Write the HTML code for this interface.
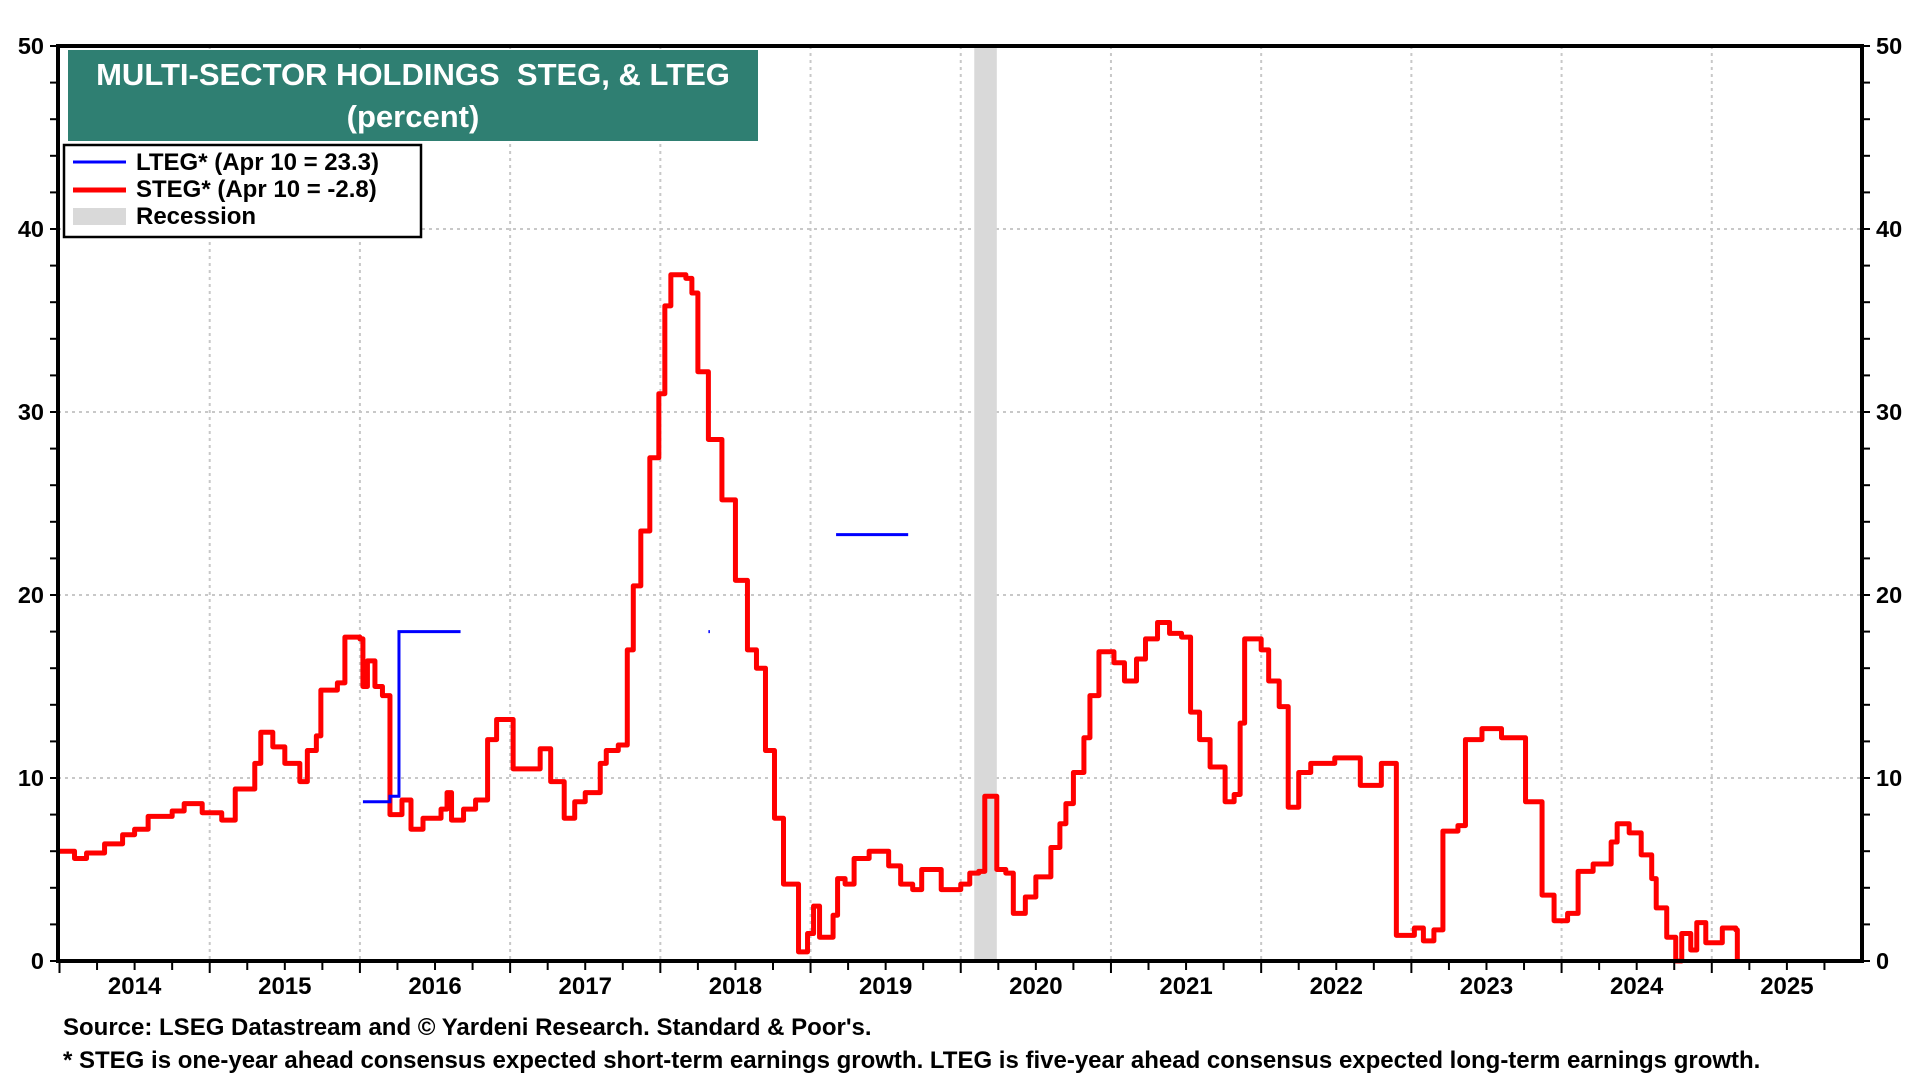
<!DOCTYPE html>
<html><head><meta charset="utf-8"><style>
body{margin:0;background:#fff;width:1920px;height:1080px;overflow:hidden;font-family:"Liberation Sans",Arial,sans-serif}
svg text{font-family:"Liberation Sans",Arial,sans-serif;font-weight:bold}
</style></head><body>
<svg id="chart" width="1920" height="1080" viewBox="0 0 1920 1080" xmlns="http://www.w3.org/2000/svg">
<g id="grid"></g>
<rect id="rec" fill="#d9d9d9"/>
<g id="series"></g>
<g id="axes"></g>
<rect x="68" y="50" width="690" height="91" fill="#2f7f72"/>
<text x="413" y="85" fill="#fff" font-size="31" text-anchor="middle">MULTI-SECTOR HOLDINGS&#160; STEG, &amp; LTEG</text>
<text x="413" y="127" fill="#fff" font-size="31" text-anchor="middle">(percent)</text>
<g>
<rect x="64" y="145" width="357" height="92" fill="#fff" stroke="#000" stroke-width="2.5"/>
<line x1="73" y1="162" x2="126" y2="162" stroke="#0000ff" stroke-width="3"/>
<text x="136" y="170" font-size="24">LTEG* (Apr 10 = 23.3)</text>
<line x1="73" y1="190" x2="126" y2="190" stroke="#ff0000" stroke-width="5"/>
<text x="136" y="197" font-size="24">STEG* (Apr 10 = -2.8)</text>
<rect x="73" y="208" width="53" height="17" fill="#d9d9d9"/>
<text x="136" y="224" font-size="24">Recession</text>
</g>
<text x="63" y="1035" font-size="24">Source: LSEG Datastream and © Yardeni Research. Standard &amp; Poor's.</text>
<text x="63" y="1068" font-size="24">* STEG is one-year ahead consensus expected short-term earnings growth. LTEG is five-year ahead consensus expected long-term earnings growth.</text>
</svg>
<script>
const yearLabels=[2014,2015,2016,2017,2018,2019,2020,2021,2022,2023,2024,2025];
const yTicks=[0,10,20,30,40,50];
const recession=[2020.09,2020.24];
const stegX=[2013.99,2014.1,2014.18,2014.3,2014.42,2014.5,2014.59,2014.75,2014.83,2014.95,2015.08,2015.17,2015.3,2015.34,2015.42,2015.5,2015.6,2015.65,2015.71,2015.74,2015.85,2015.9,2016.0,2016.02,2016.05,2016.1,2016.15,2016.2,2016.28,2016.34,2016.42,2016.54,2016.58,2016.61,2016.69,2016.77,2016.85,2016.91,2017.02,2017.16,2017.2,2017.27,2017.36,2017.43,2017.5,2017.6,2017.64,2017.72,2017.78,2017.82,2017.87,2017.93,2017.99,2018.03,2018.07,2018.17,2018.21,2018.25,2018.32,2018.41,2018.5,2018.58,2018.64,2018.7,2018.76,2018.82,2018.92,2018.98,2019.02,2019.06,2019.15,2019.18,2019.23,2019.29,2019.39,2019.46,2019.52,2019.6,2019.68,2019.74,2019.87,2020.0,2020.06,2020.12,2020.16,2020.24,2020.3,2020.35,2020.43,2020.5,2020.6,2020.66,2020.7,2020.75,2020.82,2020.86,2020.92,2021.02,2021.09,2021.17,2021.23,2021.31,2021.39,2021.47,2021.53,2021.59,2021.66,2021.76,2021.82,2021.86,2021.89,2022.0,2022.05,2022.12,2022.18,2022.25,2022.33,2022.49,2022.66,2022.8,2022.9,2023.02,2023.08,2023.15,2023.21,2023.31,2023.36,2023.47,2023.6,2023.76,2023.87,2023.95,2024.04,2024.11,2024.21,2024.33,2024.37,2024.45,2024.53,2024.6,2024.63,2024.7,2024.76,2024.8,2024.86,2024.9,2024.96,2025.07,2025.16,2025.17];
const stegY=[6,5.6,5.9,6.4,6.9,7.2,7.9,8.2,8.6,8.1,7.7,9.4,10.8,12.5,11.7,10.8,9.8,11.5,12.3,14.8,15.2,17.7,17.6,15.0,16.4,15,14.5,8.0,8.8,7.2,7.8,8.3,9.2,7.7,8.3,8.8,12.1,13.2,10.5,10.5,11.6,9.8,7.8,8.7,9.2,10.8,11.5,11.8,17,20.5,23.5,27.5,31,35.8,37.5,37.3,36.5,32.2,28.5,25.2,20.8,17,16,11.5,7.8,4.2,0.5,1.5,3.0,1.3,2.5,4.5,4.2,5.6,6.0,6.0,5.2,4.2,3.9,5.0,3.9,4.2,4.8,4.9,9.0,5.0,4.8,2.6,3.5,4.6,6.2,7.5,8.6,10.3,12.2,14.5,16.9,16.3,15.3,16.5,17.6,18.5,17.9,17.7,13.6,12.1,10.6,8.7,9.1,13.0,17.6,17.0,15.3,13.9,8.4,10.3,10.8,11.1,9.6,10.8,1.4,1.8,1.1,1.7,7.1,7.4,12.1,12.7,12.2,8.7,3.6,2.2,2.6,4.9,5.3,6.5,7.5,7.0,5.8,4.5,2.9,1.3,0,1.5,0.6,2.1,1.0,1.8,1.7,0];
const ltegX=[2016.02,2016.2,2016.26,2016.67,null,2018.32,2018.33,null,2019.17,2019.65];
const ltegY=[8.7,9.0,18.0,18.0,null,18.0,18.0,null,23.3,23.3];
const L=58,R=1862,T=46,B=961;
const X0=2013.99,X1=2026.0;
const xs=v=>L+(v-X0)/(X1-X0)*(R-L);
const ys=v=>B-v/50*(B-T);
const NS='http://www.w3.org/2000/svg';
function mk(tag,parent,attrs){const e=document.createElementNS(NS,tag);for(const k in attrs)e.setAttribute(k,attrs[k]);parent.appendChild(e);return e;}
const grid=document.getElementById('grid'),axes=document.getElementById('axes'),series=document.getElementById('series');
yTicks.forEach(t=>{if(t>0&&t<50){const g=mk('line',grid,{x1:L,x2:R,y1:ys(t),y2:ys(t),stroke:'#c8c8c8','stroke-width':2,'stroke-dasharray':'3 4'});

}
const a=mk('text',axes,{x:L-14,y:ys(t)+8,'font-size':23.5,'text-anchor':'end'});a.textContent=t;


const b=mk('text',axes,{x:R+14,y:ys(t)+8,'font-size':23.5});b.textContent=t;

});
for(let v=0;v<=50;v+=2){mk('line',axes,{x1:L-8,x2:L,y1:ys(v),y2:ys(v),stroke:'#000','stroke-width':2});mk('line',axes,{x1:R,x2:R+8,y1:ys(v),y2:ys(v),stroke:'#000','stroke-width':2});}
yearLabels.forEach(y=>{const x=xs(y);if(y>2014){const g=mk('line',grid,{x1:x,x2:x,y1:T,y2:B,stroke:'#c8c8c8','stroke-width':2,'stroke-dasharray':'3 4'});

}
for(let q=0;q<4;q++){const qx=xs(y+q/4);mk('line',axes,{x1:qx,x2:qx,y1:B,y2:B+(q==0?12:9),stroke:'#000','stroke-width':2});}
const t=mk('text',axes,{x:xs(y+0.5),y:B+33,'font-size':24,'text-anchor':'middle'});t.textContent=y;

});
mk('rect',axes,{x:L,y:T,width:R-L,height:B-T,fill:'none',stroke:'#000','stroke-width':4});
const rec=document.getElementById('rec');rec.setAttribute('x',xs(recession[0]));rec.setAttribute('width',xs(recession[1])-xs(recession[0]));rec.setAttribute('y',T);rec.setAttribute('height',B-T);
function stepPath(X,Y){let d='',pen=false;for(let i=0;i<X.length;i++){if(X[i]===null){pen=false;continue;}const x=xs(X[i]),y=ys(Y[i]);if(!pen){d+='M'+x+' '+y;pen=true;}else{d+='H'+x+'V'+y;}}return d;}
const s=mk('path',series,{d:stepPath(stegX,stegY),fill:'none',stroke:'#ff0000','stroke-width':5,'stroke-linejoin':'round'});


const l=mk('path',series,{d:stepPath(ltegX,ltegY),fill:'none',stroke:'#0000ff','stroke-width':3});


</script>
</body></html>
